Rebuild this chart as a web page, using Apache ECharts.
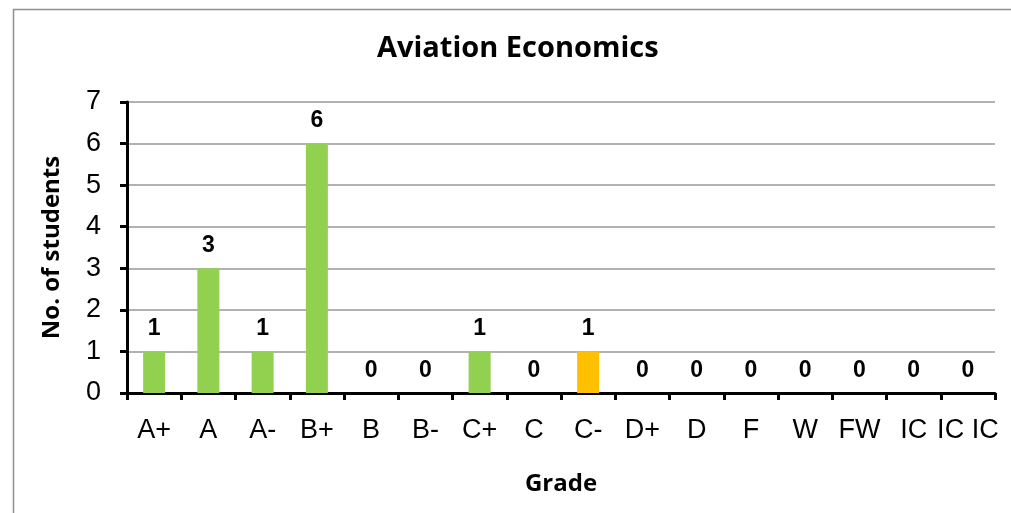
<!DOCTYPE html>
<html>
<head>
<meta charset="utf-8">
<script src="https://cdn.jsdelivr.net/npm/echarts@6/dist/echarts.min.js"></script>
<style>html,body{margin:0;padding:0;background:#fff;}#c{width:1011px;height:513px;}</style>
</head>
<body>
<div id="c"></div>
<script>
const titleText = 'Aviation Economics';
const xAxisName = 'Grade';
const yAxisName = 'No. of students';
const categories = ['A+','A','A-','B+','B','B-','C+','C','C-','D+','D','F','W','FW','IC','IC IC'];
const values = [1,3,1,6,0,0,1,0,1,0,0,0,0,0,0,0];
const highlightCategory = 'C-';

const chart = echarts.init(document.getElementById('c'), null, {renderer:'canvas'});
chart.setOption({
  animation: false,
  backgroundColor: '#fff',
  graphic: [{
    type: 'rect', left: 11, top: 7, silent: true,
    shape: {width: 1100, height: 600},
    style: {fill: 'none', stroke: '#8f8f8f', lineWidth: 1.5}
  }],
  title: {
    text: titleText, left: 372, top: 29,
    textStyle: {fontFamily: 'Open Sans', fontWeight: 'bold', fontSize: 29, color: '#000'}
  },
  grid: {left: 127, right: 16, top: 102, bottom: 120, containLabel: false},
  xAxis: {
    type: 'category', data: categories,
    name: xAxisName, nameLocation: 'middle', nameGap: 79,
    nameTextStyle: {fontFamily: 'Open Sans', fontWeight: 'bold', fontSize: 24, color: '#000'},
    axisLine: {lineStyle: {color: '#000', width: 3}},
    axisTick: {show: true, length: 7, lineStyle: {color: '#000', width: 3}},
    axisLabel: {interval: 0, margin: 24, fontFamily: 'Liberation Sans', fontSize: 27, color: '#000'},
    splitLine: {show: false}
  },
  yAxis: {
    type: 'value', min: 0, max: 7, interval: 1,
    name: yAxisName, nameLocation: 'middle', nameGap: 63, nameRotate: 90,
    nameTextStyle: {fontFamily: 'Open Sans', fontWeight: 'bold', fontSize: 24, color: '#000'},
    axisLine: {show: true, lineStyle: {color: '#000', width: 3}},
    axisTick: {show: true, length: 7, lineStyle: {color: '#000', width: 3}},
    axisLabel: {margin: 26, fontFamily: 'Liberation Sans', fontSize: 27, color: '#000'},
    splitLine: {lineStyle: {color: '#999', width: 1.5}}
  },
  series: [{
    type: 'bar', barWidth: 22,
    data: values.map((v, i) => ({
      value: v,
      itemStyle: {color: categories[i] === highlightCategory ? '#FFC000' : '#92D050'}
    })),
    label: {show: true, position: 'top', distance: 11,
      fontFamily: 'Liberation Sans', fontWeight: 'bold', fontSize: 23, color: '#000'}
  }]
});
</script>
</body>
</html>
